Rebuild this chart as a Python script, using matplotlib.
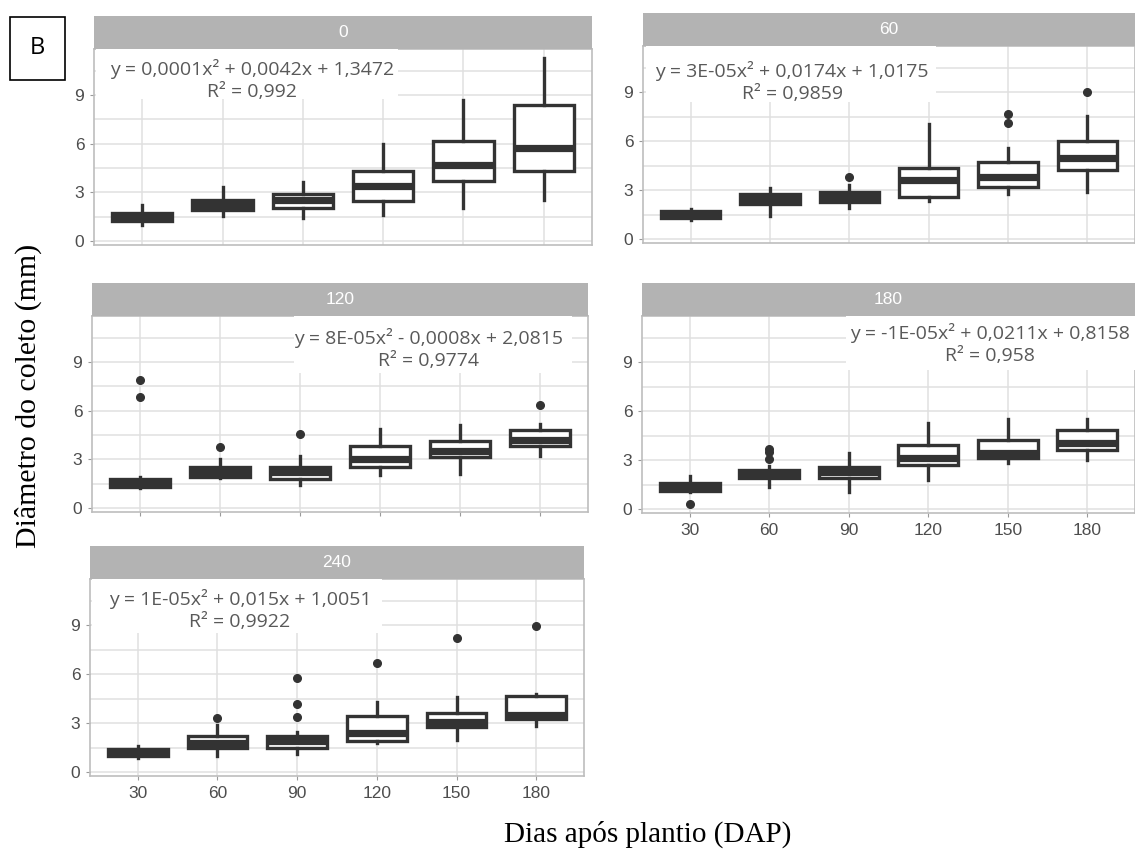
import matplotlib.pyplot as plt
from matplotlib.patches import Rectangle

# dias apos plantio (categorias do eixo x)
dap = ['30', '60', '90', '120', '150', '180']
paineis = ['0', '60', '120', '180', '240']

stats_0 = [(1.0, 1.22, 1.5, 1.73, 2.2), (1.55, 1.9, 2.2, 2.5, 3.3), (1.43, 2.06, 2.5, 2.9, 3.67),
           (1.63, 2.47, 3.4, 4.3, 6.0), (2.04, 3.73, 4.7, 6.2, 8.73), (2.5, 4.29, 5.73, 8.37, 11.3)]
stats_60 = [(1.16, 1.29, 1.5, 1.73, 1.84), (1.43, 2.14, 2.45, 2.76, 3.12), (1.9, 2.24, 2.55, 2.9, 3.3),
            (2.3, 2.55, 3.6, 4.35, 7.08), (2.75, 3.22, 3.8, 4.75, 5.57), (2.86, 4.22, 4.96, 6.02, 7.53)]
stats_120 = [(1.21, 1.28, 1.55, 1.78, 1.88), (1.82, 1.88, 2.23, 2.55, 3.0), (1.42, 1.78, 2.19, 2.53, 3.2),
             (2.02, 2.55, 3.05, 3.8, 4.9), (2.08, 3.16, 3.5, 4.13, 5.1), (3.18, 3.82, 4.18, 4.79, 5.19)]
stats_180 = [(1.02, 1.08, 1.35, 1.59, 2.04), (1.32, 1.87, 2.15, 2.38, 2.65), (1.06, 1.87, 2.24, 2.6, 3.46),
             (1.77, 2.69, 3.1, 3.93, 5.3), (2.85, 3.12, 3.42, 4.24, 5.54), (3.0, 3.63, 4.03, 4.85, 5.54)]
stats_240 = [(0.86, 0.96, 1.2, 1.43, 1.57), (0.96, 1.47, 1.77, 2.22, 2.89), (1.12, 1.47, 1.9, 2.22, 2.48),
             (1.75, 1.91, 2.4, 3.46, 4.28), (1.96, 2.75, 3.05, 3.6, 4.62), (2.85, 3.24, 3.5, 4.68, 4.77)]

# pontos discrepantes
out_0 = [[], [], [], [], [], []]
out_60 = [[], [], [3.8], [], [7.65, 7.12], [9.04]]
out_120 = [[7.9, 6.88], [3.77], [4.55], [], [], [6.36]]
out_180 = [[0.29], [3.67, 3.5, 3.05], [], [], [], []]
out_240 = [[], [3.3], [3.38, 4.15, 5.74], [6.7], [8.25], [8.96]]

equacoes = ['y = 0,0001x² + 0,0042x + 1,3472\nR² = 0,992',
            'y = 3E-05x² + 0,0174x + 1,0175\nR² = 0,9859',
            'y = 8E-05x² - 0,0008x + 2,0815\nR² = 0,9774',
            'y = -1E-05x² + 0,0211x + 0,8158\nR² = 0,958',
            'y = 1E-05x² + 0,015x + 1,0051\nR² = 0,9922']

todas_stats = [stats_0, stats_60, stats_120, stats_180, stats_240]
todos_out = [out_0, out_60, out_120, out_180, out_240]

W, H = 1135, 849
fig = plt.figure(figsize=(W / 100, H / 100), dpi=100)

# caixas dos paineis em pixels: (esquerda, topo, direita, base)
caixas = [(94, 49, 592, 245), (643, 46, 1135, 243), (92, 316, 588, 512),
          (642, 316, 1135, 513), (90, 579, 584, 776)]
# retangulo branco atras da equacao, em pixels (x0, y0, x1, y1), e centro do texto
ret_eq = [(96, 49, 398, 99), (646, 46, 936, 102), (294, 316, 572, 373),
          (846, 316, 1135, 370), (92, 579, 382, 633)]
ali_eq = [(252, 80), (792, 82), (429, 349), (990, 344), (240, 610)]

cor = '#333333'
for i, (l, t, r, b) in enumerate(caixas):
    ax = fig.add_axes([l / W, 1 - b / H, (r - l) / W, (b - t) / H])
    bx = []
    for (lo, q1, me, q3, hi), fl in zip(todas_stats[i], todos_out[i]):
        bx.append(dict(whislo=lo, q1=q1, med=me, q3=q3, whishi=hi, fliers=fl))
    ax.bxp(bx, positions=range(1, 7), widths=0.75, showcaps=False, patch_artist=True,
           boxprops=dict(facecolor='white', edgecolor=cor, linewidth=2.4),
           whiskerprops=dict(color=cor, linewidth=2.4),
           medianprops=dict(color=cor, linewidth=5.2, solid_capstyle='butt'),
           flierprops=dict(marker='o', markerfacecolor=cor, markeredgecolor=cor, markersize=5.5),
           zorder=3)
    ax.set_xlim(0.4, 6.6)
    ax.set_ylim(-0.25, 11.85)
    ax.set_yticks([0, 3, 6, 9])
    ax.set_yticks([1.5, 4.5, 7.5, 10.5], minor=True)
    ax.set_xticks(range(1, 7))
    ax.grid(True, which='major', color='#E0E0E0', linewidth=1.1, zorder=0)
    ax.grid(True, which='minor', axis='y', color='#E0E0E0', linewidth=1.1, zorder=0)
    ax.set_axisbelow(True)
    for s in ax.spines.values():
        s.set_color('#BDBDBD')
        s.set_linewidth(1.2)
    ax.tick_params(axis='both', which='major', colors='#9A9A9A', length=3, width=0.8,
                   labelcolor='#4D4D4D', labelsize=12.5, pad=4)
    ax.tick_params(axis='y', which='minor', length=0)
    for lab in ax.get_yticklabels():
        lab.set_fontfamily('Liberation Sans')
    if i in (3, 4):
        ax.set_xticklabels(dap, fontfamily='Liberation Sans')
    else:
        ax.set_xticklabels([])
        if i != 2:
            ax.tick_params(axis='x', length=0)

    # faixa do painel
    fig.patches.append(Rectangle((l / W, 1 - t / H), (r - l) / W, 33 / H, transform=fig.transFigure,
                                 facecolor='#B3B3B3', edgecolor='none'))
    fig.text((l + r) / 2 / W, 1 - (t - 16.5) / H, paineis[i], color='white', fontsize=12.5,
             ha='center', va='center', family='Liberation Sans')

    # caixa branca com a equacao
    x0, y0, x1, y1 = ret_eq[i]
    fig.patches.append(Rectangle((x0 / W, 1 - y1 / H), (x1 - x0) / W, (y1 - y0) / H,
                                 transform=fig.transFigure, facecolor='white', edgecolor='none', zorder=5))
    cx, cy = ali_eq[i]
    fig.text(cx / W, 1 - cy / H, equacoes[i], color='#595959', fontsize=14, ha='center', va='center',
             family='Open Sans', linespacing=1.3, zorder=6)

# rotulo B
fig.patches.append(Rectangle((10 / W, 1 - 80 / H), 55 / W, 63 / H, transform=fig.transFigure,
                             facecolor='white', edgecolor='black', linewidth=1.2))
fig.text(37 / W, 1 - 48 / H, 'B', fontsize=17, ha='center', va='center', family='Open Sans')

fig.text(28 / W, 1 - 396 / H, 'Diâmetro do coleto (mm)', rotation=90, fontsize=21.5,
         ha='center', va='center', family='Liberation Serif')
fig.text(648 / W, 1 - 834 / H, 'Dias após plantio (DAP)', fontsize=21,
         ha='center', va='center', family='Liberation Serif')

plt.savefig('out.png', dpi=100)
